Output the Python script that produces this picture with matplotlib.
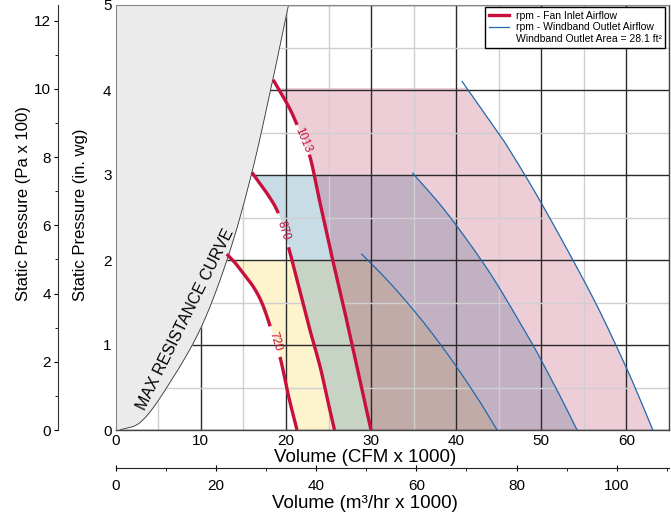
import numpy as np
import matplotlib
matplotlib.use("Agg")
import matplotlib.pyplot as plt
from matplotlib.lines import Line2D
from matplotlib.ticker import MultipleLocator

plt.rcParams['font.family'] = ['Liberation Sans', 'DejaVu Sans']

# fan inlet curves (CFM x 1000, in. wg); gap = index where the rpm label breaks the line
fan_720_cfm = [13.05, 14.0, 15.0, 16.2, 17.2, 18.15, 19.3, 20.3, 21.3]
fan_720_sp = [2.07, 1.97, 1.84, 1.68, 1.49, 1.22, 0.86, 0.4, 0.0]
fan_870_cfm = [16.0, 16.8, 17.8, 19.1, 20.3, 21.6, 22.7, 24.0, 24.9, 25.7]
fan_870_sp = [3.03, 2.92, 2.78, 2.55, 2.15, 1.65, 1.22, 0.75, 0.35, 0.0]
fan_1013_cfm = [18.5, 19.5, 20.5, 21.3, 22.75, 23.9, 25.4, 26.6, 27.9, 29.2, 30.0]
fan_1013_sp = [4.12, 3.95, 3.77, 3.59, 3.24, 2.72, 2.04, 1.53, 0.94, 0.35, 0.0]

# windband outlet curves
out_720_cfm = [28.9, 30.8, 33.2, 35.9, 38.2, 40.2, 42.6, 44.8]
out_720_sp = [2.07, 1.88, 1.62, 1.3, 1.0, 0.72, 0.36, 0.0]
out_870_cfm = [34.9, 37.3, 39.7, 42.8, 45.2, 48.9, 50.1, 52.2, 54.2]
out_870_sp = [3.02, 2.75, 2.45, 2.02, 1.65, 1.02, 0.8, 0.4, 0.0]
out_1013_cfm = [40.7, 44.7, 46.3, 49.6, 53.6, 56.8, 60.0, 61.6, 63.1]
out_1013_sp = [4.1, 3.53, 3.29, 2.74, 2.02, 1.41, 0.73, 0.36, 0.0]

rpms = ["720", "870", "1013"]
fill_tops = [2.0, 3.0, 4.03]
label_gaps = [5, 3, 3]

# max resistance curve
max_cfm = [0.5, 3.0, 6.0, 10.0, 13.3, 16.0, 18.3, 20.3]
max_sp = [0.0, 0.1, 0.5, 1.2, 2.07, 3.03, 4.05, 5.0]

CRIMSON = '#C8103E'
BLUE = '#1F6AAE'
fill_styles = [('#FDF3CC', 1.0), ('#649BB8', 0.35), ('#AD1C45', 0.22)]
N = 24


def smooth(x, y):
    # catmull-rom through the read points, N steps per segment
    pts = np.column_stack([x, y])
    p = np.vstack([2 * pts[0] - pts[1], pts, 2 * pts[-1] - pts[-2]])
    t = np.linspace(0, 1, N, endpoint=False)[:, None]
    out = []
    for i in range(1, len(p) - 2):
        p0, p1, p2, p3 = p[i - 1], p[i], p[i + 1], p[i + 2]
        out.append(0.5 * (2 * p1 + (p2 - p0) * t + (2 * p0 - 5 * p1 + 4 * p2 - p3) * t ** 2
                          + (3 * p1 - p0 - 3 * p2 + p3) * t ** 3))
    out.append(pts[-1:])
    s = np.vstack(out)
    return s[:, 0], s[:, 1]


W, H = 671, 516
fig = plt.figure(figsize=(W / 100, H / 100), dpi=100)
L, R, B, T = 115.7, 669, 430, 5
ax = fig.add_axes([L / W, 1 - B / H, (R - L) / W, (B - T) / H])
ax.set_xlim(0, 65)
ax.set_ylim(0, 5)

fans = [(fan_720_cfm, fan_720_sp), (fan_870_cfm, fan_870_sp), (fan_1013_cfm, fan_1013_sp)]
outs = [(out_720_cfm, out_720_sp), (out_870_cfm, out_870_sp), (out_1013_cfm, out_1013_sp)]
fans_s = [smooth(*f) for f in fans]
outs_s = [smooth(*o) for o in outs]

# shaded operating regions
for i in range(3):
    y = np.linspace(0, fill_tops[i], 300)
    xl = np.interp(y, fans_s[i][1][::-1], fans_s[i][0][::-1])
    xr = np.interp(y, outs_s[i][1][::-1], outs_s[i][0][::-1])
    col, a = fill_styles[i]
    ax.fill_betweenx(y, xl, xr, color=col, alpha=a, lw=0, zorder=1 + i * 0.1)

# grid
ax.set_axisbelow('line')
ax.xaxis.set_major_locator(MultipleLocator(10))
ax.xaxis.set_minor_locator(MultipleLocator(5))
ax.yaxis.set_major_locator(MultipleLocator(1))
ax.yaxis.set_minor_locator(MultipleLocator(0.5))
ax.grid(which='major', color='#2a2a2a', lw=1.0)
ax.grid(which='minor', color='#cfcfcf', lw=1.0)
ax.tick_params(which='both', length=0, labelsize=11, pad=3)

# max resistance region
mx, my = smooth(max_cfm, max_sp)
ax.fill_betweenx(my, 0, mx, color='#EBEBEB', lw=0, zorder=2)
ax.plot(mx, my, color='#333333', lw=0.6, zorder=2.1)
ax.text(8.2, 1.3, "MAX RESISTANCE CURVE", rotation=63.6, rotation_mode='anchor',
        ha='center', va='center', fontsize=11.5, zorder=5)

# curves
fig.canvas.draw()
for i in range(3):
    cfm, sp = fans[i]
    g = label_gaps[i]
    sx, sy = fans_s[i]
    sy = sy.copy()
    sy[g * N + 1:(g + 1) * N] = np.nan
    ax.plot(sx, sy, color=CRIMSON, lw=2.4, zorder=4, solid_capstyle='butt')
    p0 = ax.transData.transform((cfm[g], sp[g]))
    p1 = ax.transData.transform((cfm[g + 1], sp[g + 1]))
    ang = np.degrees(np.arctan2(p1[1] - p0[1], p1[0] - p0[0]))
    ax.text((cfm[g] + cfm[g + 1]) / 2, (sp[g] + sp[g + 1]) / 2, rpms[i], color=CRIMSON,
            fontsize=8.5, rotation=ang, rotation_mode='anchor', ha='center', va='center', zorder=5)
    ax.plot(outs_s[i][0], outs_s[i][1], color=BLUE, lw=0.9, zorder=4)

ax.text(41.1, 5.03, "1080", ha='center', va='bottom', fontsize=9, clip_on=False)

for s in ['top', 'left']:
    ax.spines[s].set_color('#888888')
    ax.spines[s].set_linewidth(0.8)
for s in ['right', 'bottom']:
    ax.spines[s].set_color('#444444')
    ax.spines[s].set_linewidth(1.0)

handles = [Line2D([], [], color=CRIMSON, lw=2.4),
           Line2D([], [], color=BLUE, lw=0.9),
           Line2D([], [], color='none')]
labels = ["rpm - Fan Inlet Airflow", "rpm - Windband Outlet Airflow",
          "Windband Outlet Area = 28.1 ft²"]
leg = ax.legend(handles, labels, loc='upper right', bbox_to_anchor=(0.993, 0.995), fontsize=7.5,
                fancybox=False, framealpha=1, edgecolor='black', borderpad=0.35,
                labelspacing=0.15, handlelength=2.0, handletextpad=0.6, borderaxespad=0)
leg.get_frame().set_linewidth(1.0)
leg.set_zorder(6)

# outer pressure axis (Pa x 100)
axp = fig.add_axes([57.7 / W, 1 - B / H, 0.001, (B - T) / H])
axp.set_ylim(0, 5 * 2.4909)
for s in ['top', 'right', 'bottom']:
    axp.spines[s].set_visible(False)
axp.spines['left'].set_color('#333333')
axp.set_xticks([])
axp.yaxis.set_major_locator(MultipleLocator(2))
axp.yaxis.set_minor_locator(MultipleLocator(1))
axp.tick_params(axis='y', which='major', length=3, labelsize=11, pad=2)
axp.tick_params(axis='y', which='minor', length=2)
axp.patch.set_visible(False)

# bottom metric volume axis (m3/hr x 1000)
axm = fig.add_axes([L / W, 1 - 468 / H, (R - L) / W, 0.001])
axm.set_xlim(0, 65 * 1.699)
for s in ['top', 'right', 'left']:
    axm.spines[s].set_visible(False)
axm.spines['bottom'].set_color('#222222')
axm.set_yticks([])
axm.xaxis.set_major_locator(MultipleLocator(20))
axm.xaxis.set_minor_locator(MultipleLocator(10))
axm.tick_params(axis='x', which='major', direction='inout', length=4, labelsize=11, pad=6)
axm.tick_params(axis='x', which='minor', direction='out', length=2)
axm.patch.set_visible(False)

fig.text(365 / W, 1 - 458 / H, "Volume (CFM x 1000)", ha='center', va='center', fontsize=13.5)
fig.text(365 / W, 1 - 503 / H, "Volume (m³/hr x 1000)", ha='center', va='center', fontsize=13.5)
fig.text(81 / W, 1 - 301 / H, "Static Pressure (in. wg)", rotation=90, ha='center', va='bottom', fontsize=12)
fig.text(24 / W, 1 - 301 / H, "Static Pressure (Pa x 100)", rotation=90, ha='center', va='bottom', fontsize=12)

fig.savefig("out.png", dpi=100)
